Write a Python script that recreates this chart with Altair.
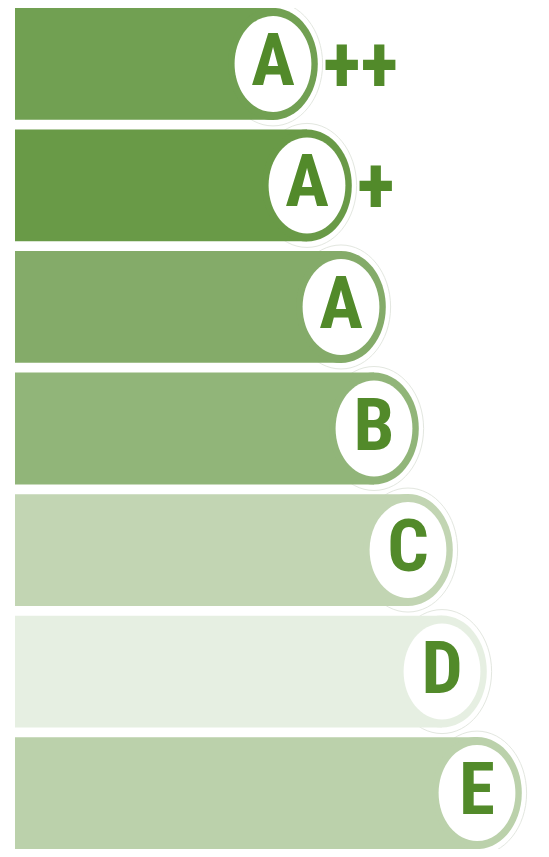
import altair as alt
import pandas as pd

# ---- data ----
rows = ["A++", "A+", "A", "B", "C", "D", "E"]          # unique row keys, top to bottom
grades = ["A", "A", "A", "B", "C", "D", "E"]            # letter in the white badge
suffixes = ["++", "+", "", "", "", "", ""]              # text to the right of the badge
centers = [258, 292, 326, 359, 393, 427, 462]           # badge centre (bar length, arbitrary units)
starts = [0, 0, 0, 0, 0, 0, 0]
colors = ["#71a052", "#699a47", "#84ab69", "#91b579", "#c2d5b3", "#e6efe2", "#bbd1ab"]

df = pd.DataFrame(dict(row=rows, grade=grades, suffix=suffixes,
                       center=centers, start=starts, color=colors))

K = 0.5523


def ellipse_path(rx):
    return (f"M0,-1 C{K*rx:.4f},-1 {rx},{-K:.4f} {rx},0 "
            f"C{rx},{K:.4f} {K*rx:.4f},1 0,1 "
            f"C{-K*rx:.4f},1 {-rx},{K:.4f} {-rx},0 "
            f"C{-rx},{-K:.4f} {-K*rx:.4f},-1 0,-1 Z")


SHAPE = ellipse_path(0.8)
GREEN_TEXT = "#528a2a"
FONT = "Open Sans SemiCondensed, Roboto Condensed, sans-serif"

xs = alt.Scale(domain=[0, 526], range=[7, 533])
X = alt.X("center:Q", scale=xs, axis=None)
Y = alt.Y("row:N", sort=rows, axis=None,
          scale=alt.Scale(paddingInner=0.08, paddingOuter=0))

base = alt.Chart(df)

glow = base.mark_point(shape=SHAPE, size=124 ** 2, filled=False, opacity=1,
                       stroke="#e3e7e0", strokeWidth=1).encode(x=X, y=Y)

bars = base.mark_rect(strokeWidth=0).encode(
    x=alt.X("start:Q", scale=xs, axis=None), x2="center:Q", y=Y,
    color=alt.Color("color:N", scale=None))

ends = base.mark_point(shape=SHAPE, size=112 ** 2, filled=True, opacity=1,
                       strokeWidth=0).encode(
    x=X, y=Y, color=alt.Color("color:N", scale=None))

badges = base.mark_point(shape=SHAPE, size=96 ** 2, filled=True, opacity=1,
                         fill="white", strokeWidth=0).encode(x=X, y=Y)

letters = base.mark_text(font=FONT, fontSize=73, fontWeight="bold",
                         color=GREEN_TEXT, align="center",
                         baseline="alphabetic", dy=21).encode(
    x=X, y=Y, text="grade:N")

plus = base.mark_text(font=FONT, fontSize=79, fontWeight="bold",
                      color=GREEN_TEXT, align="left",
                      baseline="alphabetic", dx=50, dy=28).encode(
    x=X, y=Y, text="suffix:N")

chart = alt.layer(glow, bars, ends, badges, letters, plus).properties(
    width=533, height=841, padding=0, autosize="none", background="white"
).configure_view(stroke=None)

chart.save("out.html", embed_options={"renderer": "svg", "actions": False})
